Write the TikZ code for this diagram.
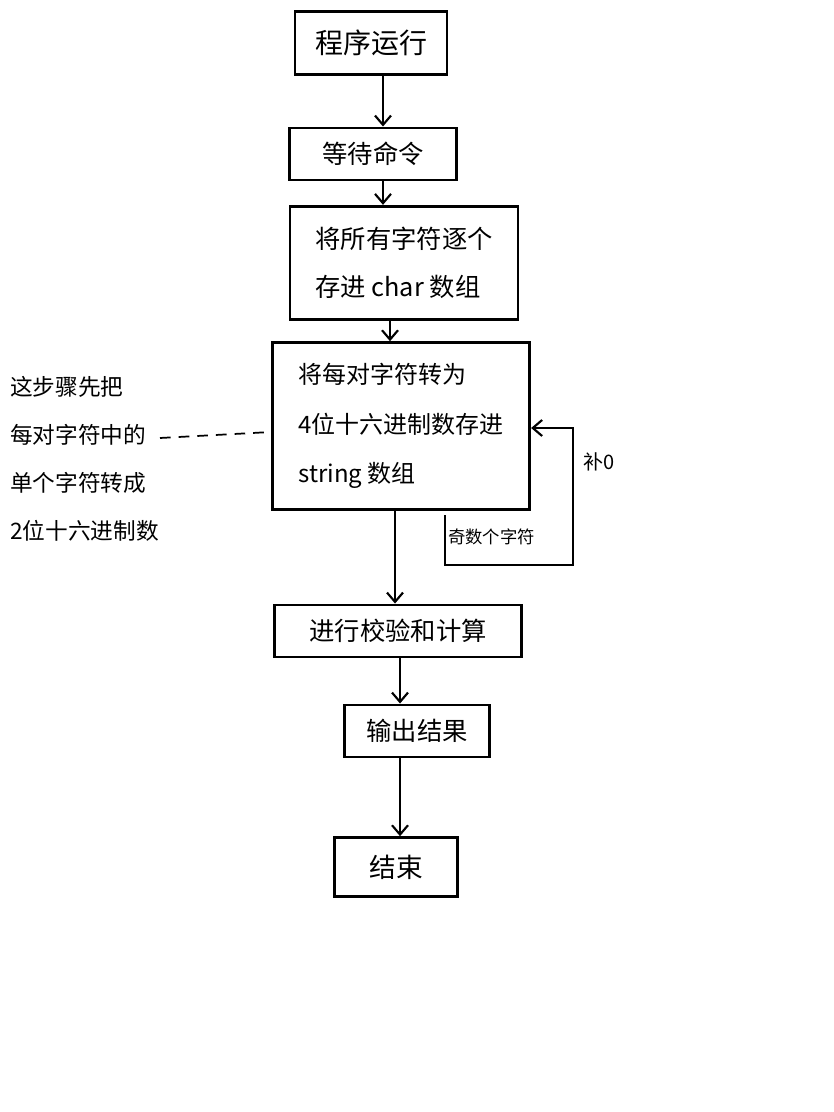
\documentclass[tikz,border=0pt]{standalone}
\usepackage{fontspec}
\setmainfont{Noto Sans CJK SC}
\usetikzlibrary{arrows.meta}
\tikzset{
  box/.style={draw, line width=2.2pt, align=left, inner sep=0pt},
  arr/.style={line width=1.6pt, -{Straight Barb[length=7pt,width=12pt]}},
  lbl/.style={align=left, inner sep=0pt, anchor=west}
}
\begin{document}
\begin{tikzpicture}[x=0.75pt,y=-0.75pt]
\useasboundingbox (0,0) rectangle (834,1112);
\fill[white] (0,0) rectangle (834,1112);
\node[box, minimum width=114pt, minimum height=47pt, font=\fontsize{21}{24}\selectfont] (a) at (371,43) {程序运行};
\node[box, minimum width=125pt, minimum height=39pt, font=\fontsize{19}{22}\selectfont] (b) at (373,154) {等待命令};
\node[box, minimum width=171pt, minimum height=85pt, font=\fontsize{19}{36}\selectfont] (c) at (404,263) {将所有字符逐个\\存进 char 数组};
\node[box, minimum width=193pt, minimum height=125pt, font=\fontsize{18}{37}\selectfont] (d) at (401,426) {将每对字符转为\\4位十六进制数存进\\string 数组};
\node[box, minimum width=185pt, minimum height=39pt, font=\fontsize{19}{22}\selectfont] (e) at (398,631) {进行校验和计算};
\node[box, minimum width=109pt, minimum height=39pt, font=\fontsize{19}{22}\selectfont] (f) at (417,731) {输出结果};
\node[box, minimum width=92pt, minimum height=44pt, font=\fontsize{20}{22}\selectfont] (g) at (396,867) {结束};
\draw[arr] (a.south -| 383,0) -- (b.north -| 383,0);
\draw[arr] (b.south -| 383,0) -- (c.north -| 383,0);
\draw[arr] (c.south -| 390,0) -- (d.north -| 390,0);
\draw[arr] (d.south -| 395,0) -- (e.north -| 395,0);
\draw[arr] (e.south -| 400,0) -- (f.north -| 400,0);
\draw[arr] (f.south -| 400,0) -- (g.north -| 400,0);
\coordinate (l0) at (445,515);
\draw[line width=1.6pt, -{Straight Barb[length=7pt,width=12pt]}] (l0) -- (445,565) -- (573,565) -- (573,428) -- (d.east |- 0,428);
\node[lbl, font=\fontsize{15}{18}\selectfont] (p) at (583,462) {补0};
\node[lbl, font=\fontsize{13}{16}\selectfont] (q) at (448,537) {奇数个字符};
\node[lbl, font=\fontsize{17}{36}\selectfont, anchor=north west] (n) at (10,376) {这步骤先把\\每对字符中的\\单个字符转成\\2位十六进制数};
\draw[line width=1.3pt, dashed, dash pattern=on 8pt off 6pt] (160,438) -- (d.west |- 0,432);
\end{tikzpicture}
\end{document}
